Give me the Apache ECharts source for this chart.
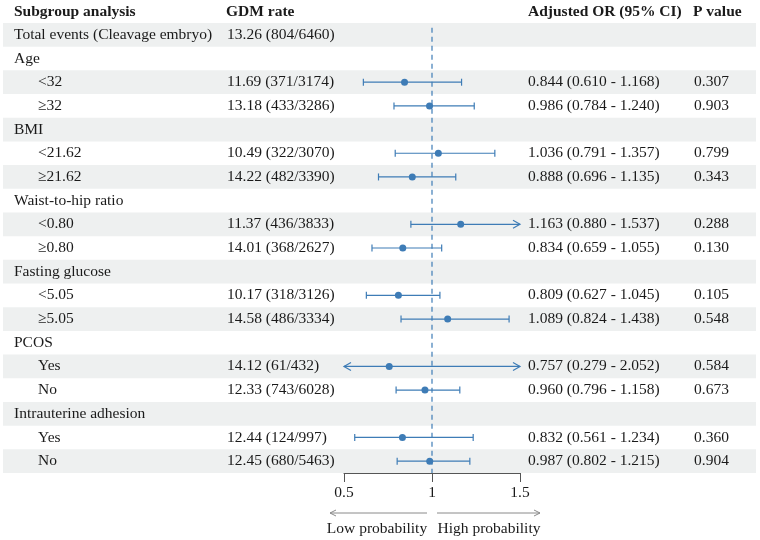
<!DOCTYPE html>
<html>
<head>
    <meta charset="UTF-8">
    <title>Subgroup analysis forest plot</title>
    <style>
        html, body { margin: 0; padding: 0; background: #ffffff; }
        #chart { width: 760px; height: 540px; }
    </style>
</head>
<body>
    <div id="chart"></div>
    <script src="https://cdn.jsdelivr.net/npm/echarts@6/dist/echarts.min.js"></script>
    <script>
        // 数据
        const subgroups = ['Total events (Cleavage embryo)', 'Age', '<32', '≥32', 'BMI', '<21.62', '≥21.62',
            'Waist-to-hip ratio', '<0.80', '≥0.80', 'Fasting glucose', '<5.05', '≥5.05',
            'PCOS', 'Yes', 'No', 'Intrauterine adhesion', 'Yes', 'No'];
        const levels = [0, 0, 1, 1, 0, 1, 1, 0, 1, 1, 0, 1, 1, 0, 1, 1, 0, 1, 1];
        const gdmRates = ['13.26 (804/6460)', '', '11.69 (371/3174)', '13.18 (433/3286)', '', '10.49 (322/3070)',
            '14.22 (482/3390)', '', '11.37 (436/3833)', '14.01 (368/2627)', '', '10.17 (318/3126)',
            '14.58 (486/3334)', '', '14.12 (61/432)', '12.33 (743/6028)', '', '12.44 (124/997)', '12.45 (680/5463)'];
        const orValues = [null, null, 0.844, 0.986, null, 1.036, 0.888, null, 1.163, 0.834, null, 0.809, 1.089,
            null, 0.757, 0.960, null, 0.832, 0.987];
        const ciLower = [null, null, 0.610, 0.784, null, 0.791, 0.696, null, 0.880, 0.659, null, 0.627, 0.824,
            null, 0.279, 0.796, null, 0.561, 0.802];
        const ciUpper = [null, null, 1.168, 1.240, null, 1.357, 1.135, null, 1.537, 1.055, null, 1.045, 1.438,
            null, 2.052, 1.158, null, 1.234, 1.215];
        const pValues = ['', '', '0.307', '0.903', '', '0.799', '0.343', '', '0.288', '0.130', '', '0.105', '0.548',
            '', '0.584', '0.673', '', '0.360', '0.904'];
        const xTicks = [0.5, 1, 1.5];

        const FONT = '"Liberation Serif", "Times New Roman", serif';
        const FS = 15.5;
        const BLUE = '#3e7cb6';
        const TEXT = '#1a1a1a';
        const AX_MIN = xTicks[0], AX_MAX = xTicks[xTicks.length - 1];

        const rowIdx = subgroups.map((_, i) => i);

        const chart = echarts.init(document.getElementById('chart'));

        // 背景条纹
        function renderBand(params, api) {
            const i = api.value(0);
            if (i % 2 !== 0) return null;
            const cy = api.coord([1, i])[1];
            const h = api.size([0, 1])[1];
            return {
                type: 'rect',
                shape: { x: 3, y: cy - h / 2, width: 753, height: h },
                style: { fill: '#eef0f0' },
                silent: true
            };
        }

        // 表格文字
        function renderText(params, api) {
            const i = api.value(0);
            const cy = api.coord([1, i])[1];
            const base = { fontFamily: FONT, fontSize: FS, fill: TEXT, verticalAlign: 'middle' };
            const children = [
                { type: 'text', style: Object.assign({ x: levels[i] ? 38 : 14, y: cy, text: subgroups[i] }, base) },
                { type: 'text', style: Object.assign({ x: 227, y: cy, text: gdmRates[i] }, base) }
            ];
            if (orValues[i] != null) {
                children.push({ type: 'text', style: Object.assign({ x: 528, y: cy,
                    text: orValues[i].toFixed(3) + ' (' + ciLower[i].toFixed(3) + ' - ' + ciUpper[i].toFixed(3) + ')' }, base) });
                children.push({ type: 'text', style: Object.assign({ x: 694, y: cy, text: pValues[i] }, base) });
            }
            return { type: 'group', children: children, silent: true };
        }

        // 置信区间
        function renderCI(params, api) {
            const i = api.value(0);
            const lo = api.value(1), hi = api.value(2), est = api.value(3);
            const pLo = api.coord([Math.max(lo, AX_MIN), i]);
            const pHi = api.coord([Math.min(hi, AX_MAX), i]);
            const pEst = api.coord([est, i]);
            const y = pEst[1];
            const ls = { stroke: BLUE, lineWidth: 1.2, fill: null };
            const children = [
                { type: 'line', shape: { x1: pLo[0], y1: y, x2: pHi[0], y2: y }, style: ls }
            ];
            if (lo < AX_MIN) {
                children.push({ type: 'polyline', shape: { points: [[pLo[0] + 7, y - 4], [pLo[0], y], [pLo[0] + 7, y + 4]] }, style: ls });
            } else {
                children.push({ type: 'line', shape: { x1: pLo[0], y1: y - 3.5, x2: pLo[0], y2: y + 3.5 }, style: ls });
            }
            if (hi > AX_MAX) {
                children.push({ type: 'polyline', shape: { points: [[pHi[0] - 7, y - 4], [pHi[0], y], [pHi[0] - 7, y + 4]] }, style: ls });
            } else {
                children.push({ type: 'line', shape: { x1: pHi[0], y1: y - 3.5, x2: pHi[0], y2: y + 3.5 }, style: ls });
            }
            children.push({ type: 'circle', shape: { cx: pEst[0], cy: y, r: 3.5 }, style: { fill: BLUE } });
            return { type: 'group', children: children };
        }

        // 参考线 x = 1（从第一行中间略上开始）
        function renderRefLine(params, api) {
            const top = api.coord([1, 0]);
            const h = api.size([0, 1])[1];
            const bottom = api.coord([1, subgroups.length - 1]);
            return {
                type: 'line',
                shape: { x1: top[0], y1: top[1] - h * 0.3, x2: top[0], y2: bottom[1] + h / 2 },
                style: { stroke: BLUE, lineWidth: 1.2, lineDash: [5, 4] },
                silent: true
            };
        }

        const ciData = [];
        rowIdx.forEach(i => {
            if (orValues[i] != null) ciData.push([i, ciLower[i], ciUpper[i], orValues[i]]);
        });

        const headerStyle = { fontFamily: FONT, fontSize: FS, fontWeight: 'bold', fill: TEXT, verticalAlign: 'middle' };
        const noteStyle = { fontFamily: FONT, fontSize: FS, fill: TEXT, verticalAlign: 'middle', align: 'center' };
        const arrowStyle = { stroke: '#8a8a8a', lineWidth: 1, fill: null };

        const option = {
            animation: false,
            grid: { left: 344, width: 176, top: 23, height: 450 },
            xAxis: {
                type: 'value',
                min: AX_MIN,
                max: AX_MAX,
                interval: 0.5,
                axisLine: { show: true, onZero: false, lineStyle: { color: '#555', width: 1 } },
                axisTick: { show: true, length: 9, lineStyle: { color: '#555' } },
                axisLabel: { fontFamily: FONT, fontSize: FS, color: TEXT, margin: 12 },
                splitLine: { show: false }
            },
            yAxis: {
                type: 'category',
                data: rowIdx,
                inverse: true,
                show: false
            },
            graphic: [
                { type: 'text', left: 14, top: 4, style: Object.assign({ text: 'Subgroup analysis' }, headerStyle) },
                { type: 'text', left: 226, top: 4, style: Object.assign({ text: 'GDM rate' }, headerStyle) },
                { type: 'text', left: 528, top: 4, style: Object.assign({ text: 'Adjusted OR (95% CI)' }, headerStyle) },
                { type: 'text', left: 693, top: 4, style: Object.assign({ text: 'P value' }, headerStyle) },
                { type: 'polyline', shape: { points: [[427, 513], [330, 513]] }, style: arrowStyle },
                { type: 'polyline', shape: { points: [[336, 510], [330, 513], [336, 516]] }, style: arrowStyle },
                { type: 'polyline', shape: { points: [[437, 513], [540, 513]] }, style: arrowStyle },
                { type: 'polyline', shape: { points: [[534, 510], [540, 513], [534, 516]] }, style: arrowStyle },
                { type: 'text', x: 377, y: 529, style: Object.assign({ text: 'Low probability' }, noteStyle) },
                { type: 'text', x: 489, y: 529, style: Object.assign({ text: 'High probability' }, noteStyle) }
            ],
            series: [
                {
                    type: 'custom',
                    name: 'bands',
                    data: rowIdx.map(i => [i]),
                    encode: { y: 0 },
                    renderItem: renderBand,
                    clip: false,
                    silent: true,
                    z: 0
                },
                {
                    type: 'custom',
                    name: 'table',
                    data: rowIdx.map(i => [i]),
                    encode: { y: 0 },
                    renderItem: renderText,
                    clip: false,
                    silent: true,
                    z: 3
                },
                {
                    type: 'custom',
                    name: 'refLine',
                    data: [[0]],
                    encode: { y: 0 },
                    renderItem: renderRefLine,
                    clip: false,
                    silent: true,
                    z: 4
                },
                {
                    type: 'custom',
                    name: 'OR',
                    data: ciData,
                    encode: { y: 0, x: [1, 2, 3] },
                    renderItem: renderCI,
                    clip: false,
                    z: 5
                }
            ]
        };

        chart.setOption(option);
    </script>
</body>
</html>
